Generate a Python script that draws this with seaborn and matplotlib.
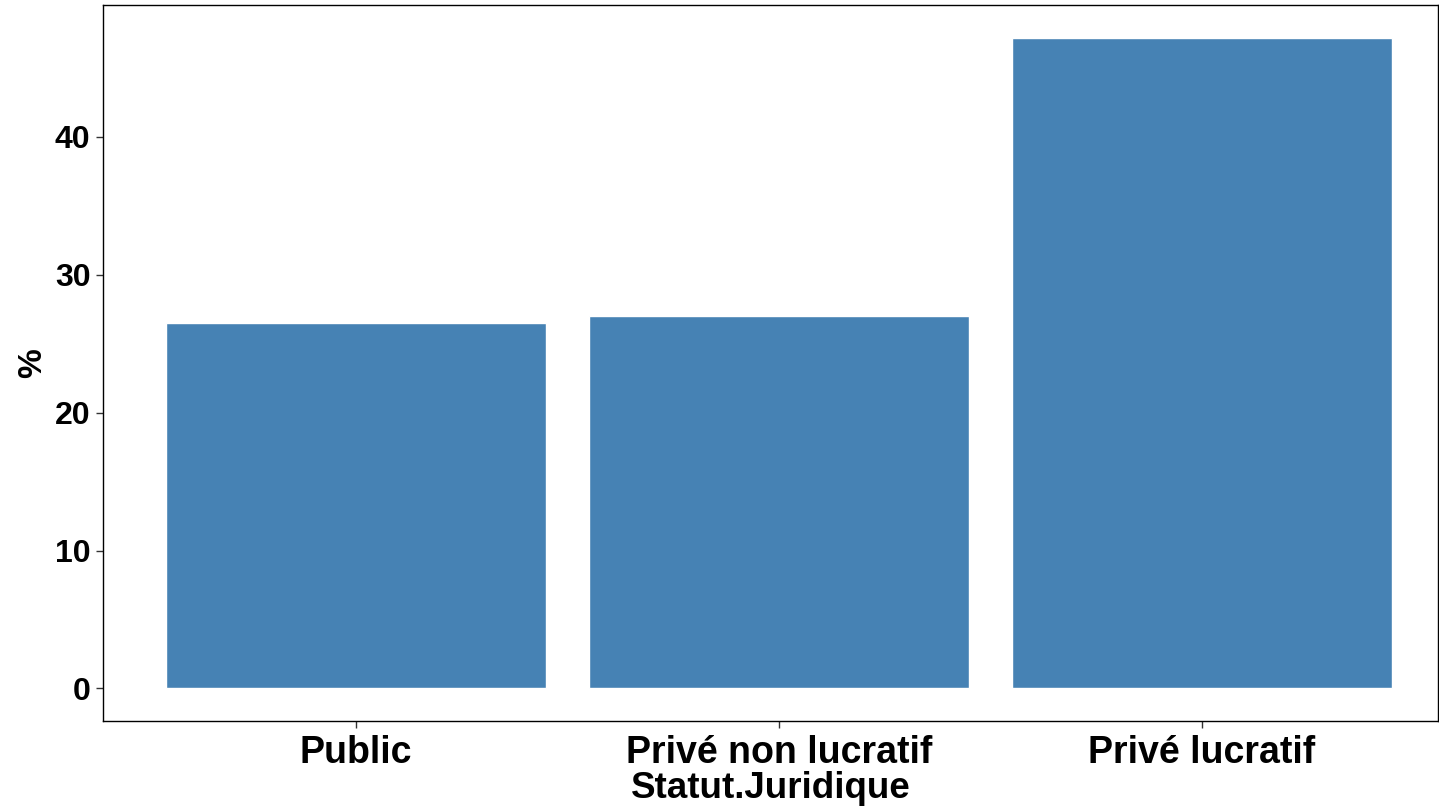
import matplotlib
matplotlib.use("Agg")
import matplotlib.pyplot as plt
import seaborn as sns
import pandas as pd

categories = ["Public", "Privé non lucratif", "Privé lucratif"]
percents = [26.5, 27.0, 47.2]

df = pd.DataFrame({"Statut.Juridique": categories, "%": percents})

sns.set_theme(style="white")
plt.rcParams["font.family"] = ["Liberation Sans", "DejaVu Sans"]
plt.rcParams["font.weight"] = "bold"

fig = plt.figure(figsize=(14.39, 8.08), dpi=100)
ax = fig.add_axes([103 / 1439, 87 / 808, 1335 / 1439, 716 / 808])

sns.barplot(data=df, x="Statut.Juridique", y="%", color="#4682B4",
            saturation=1, width=0.9, ax=ax)

ax.set_xlim(-0.598, 2.558)
ymax = max(percents)
ax.set_ylim(-0.05 * ymax, 1.05 * ymax)
ax.set_yticks([0, 10, 20, 30, 40])

for s in ax.spines.values():
    s.set_visible(True)
    s.set_color("black")
    s.set_linewidth(1.0)

ax.tick_params(axis="both", which="both", length=5, width=1, color="#333333",
               direction="out", bottom=True, left=True)
ax.tick_params(axis="x", labelsize=27, pad=5)
ax.tick_params(axis="y", labelsize=23, pad=4)
for lab in ax.get_xticklabels() + ax.get_yticklabels():
    lab.set_fontweight("bold")
    lab.set_color("black")

ax.set_xlabel("Statut.Juridique", fontsize=26.5, fontweight="bold",
              color="black", labelpad=0)
ax.set_ylabel("%", fontsize=24, fontweight="bold", color="black", labelpad=5)

fig.savefig("out.png", dpi=100)
